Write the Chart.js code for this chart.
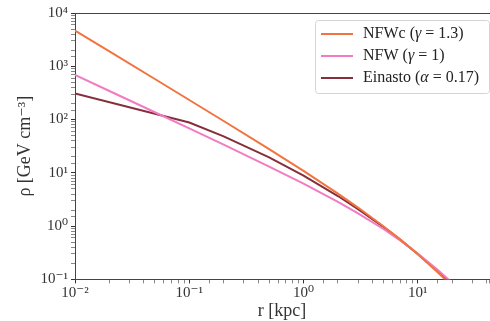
<!DOCTYPE html>
<html>
<head>
<meta charset="utf-8">
<script src="https://cdn.jsdelivr.net/npm/chart.js@4.4.1/dist/chart.umd.min.js"></script>
<style>
    html, body { margin: 0; padding: 0; background: #fff; }
    #wrap { width: 490px; height: 321px; }
</style>
</head>
<body>
<div id="wrap"><canvas id="profiles" width="490" height="321"></canvas></div>
<script>
// radius in kpc, density in GeV cm^-3
const radius = [0.01, 0.02, 0.05, 0.1, 0.2, 0.5, 1, 2, 3, 5, 7, 10, 15, 20, 30, 45];
const nfwc = [4690, 1905, 577, 233, 94, 27.8, 10.85, 4.07, 2.23, 0.996, 0.564, 0.297, 0.135, 0.074, 0.0299, 0.0113];
const nfw = [690, 344, 137, 68.3, 33.8, 13.1, 6.26, 2.85, 1.74, 0.884, 0.541, 0.307, 0.150, 0.0863, 0.0368, 0.0145];
const einasto = [310, null, null, 87.8, 48.3, 19.5, 8.9, 3.67, 2.08, 0.962, 0.557, 0.300, 0.1425, 0.0813, 0.0351, 0.0143];

const seriesLabels = ['NFWc (γ = 1.3)', 'NFW (γ = 1)', 'Einasto (α = 0.17)'];
const seriesColors = ['#f1743f', '#f27cc3', '#862f3c'];
const superDigits = { '-': '⁻', '0': '⁰', '1': '¹', '2': '²', '3': '³', '4': '⁴' };

const serif = '"Liberation Serif", "DejaVu Serif", serif';

function toPoints(values) {
    return radius.map((r, i) => ({ x: r, y: values[i] }));
}

function isMajor(value) {
    const e = Math.log10(value);
    return Math.abs(e - Math.round(e)) < 1e-6;
}

function powerLabel(value) {
    if (!isMajor(value)) return '';
    const sup = String(Math.round(Math.log10(value))).split('').map(ch => superDigits[ch]).join('');
    return '10' + sup;
}

// top spine and framed legend, like the matplotlib original
const frame = {
    id: 'frame',
    afterDraw(chart) {
        const ctx = chart.ctx;
        const area = chart.chartArea;
        ctx.save();
        ctx.strokeStyle = '#444';
        ctx.lineWidth = 1;
        ctx.beginPath();
        ctx.moveTo(area.left, area.top + 0.5);
        ctx.lineTo(490, area.top + 0.5);
        ctx.stroke();

        const boxW = 174, boxH = 73;
        const bx = 315, by = area.top + 7;
        ctx.fillStyle = 'rgba(255,255,255,0.85)';
        ctx.strokeStyle = '#d4d4d4';
        ctx.beginPath();
        ctx.roundRect(bx + 0.5, by + 0.5, boxW, boxH, 3);
        ctx.fill();
        ctx.stroke();

        chart.data.datasets.forEach((ds, i) => {
            const y = by + 14 + i * 22;
            ctx.strokeStyle = ds.borderColor;
            ctx.lineWidth = 2;
            ctx.beginPath();
            ctx.moveTo(bx + 6, y);
            ctx.lineTo(bx + 38, y);
            ctx.stroke();
            ctx.fillStyle = '#222';
            ctx.textBaseline = 'middle';
            let x = bx + 48;
            for (const ch of ds.label) {
                const greek = /[α-ω]/.test(ch);
                ctx.font = (greek ? 'italic ' : '') + '16px ' + serif;
                ctx.fillText(ch, x, y);
                x += ctx.measureText(ch).width;
            }
        });
        ctx.restore();
    }
};

const tickGrid = {
    drawOnChartArea: false,
    drawTicks: true,
    tickLength: 4,
    tickColor: ctx => (ctx.tick && isMajor(ctx.tick.value)) ? '#333' : '#888'
};

new Chart(document.getElementById('profiles'), {
    type: 'line',
    data: {
        datasets: [nfwc, nfw, einasto].map((vals, i) => ({
            label: seriesLabels[i],
            data: toPoints(vals),
            borderColor: seriesColors[i],
            backgroundColor: seriesColors[i],
            borderWidth: 2,
            pointRadius: 0,
            tension: 0,
            spanGaps: true
        }))
    },
    options: {
        responsive: false,
        devicePixelRatio: 1,
        animation: false,
        layout: { padding: { top: 13, right: 0, left: 14, bottom: 0 } },
        plugins: {
            legend: { display: false },
            tooltip: { enabled: false }
        },
        scales: {
            x: {
                type: 'logarithmic',
                min: 0.01,
                max: 42,
                border: { display: true, color: '#444', width: 1 },
                grid: tickGrid,
                ticks: {
                    autoSkip: false,
                    maxRotation: 0,
                    color: '#333',
                    padding: 1,
                    font: { family: serif, size: 15 },
                    callback: v => powerLabel(v)
                },
                title: {
                    display: true,
                    text: 'r [kpc]',
                    color: '#333',
                    padding: { top: -3, bottom: -1 },
                    font: { family: serif, size: 18 }
                }
            },
            y: {
                type: 'logarithmic',
                min: 0.1,
                max: 10000,
                border: { display: true, color: '#444', width: 1 },
                grid: tickGrid,
                ticks: {
                    autoSkip: false,
                    color: '#333',
                    padding: 3,
                    font: { family: serif, size: 15 },
                    callback: v => powerLabel(v)
                },
                title: {
                    display: true,
                    text: 'ρ [GeV cm⁻³]',
                    color: '#333',
                    padding: { top: 0, bottom: 2 },
                    font: { family: serif, size: 18 }
                }
            }
        }
    },
    plugins: [frame]
});
</script>
</body>
</html>
